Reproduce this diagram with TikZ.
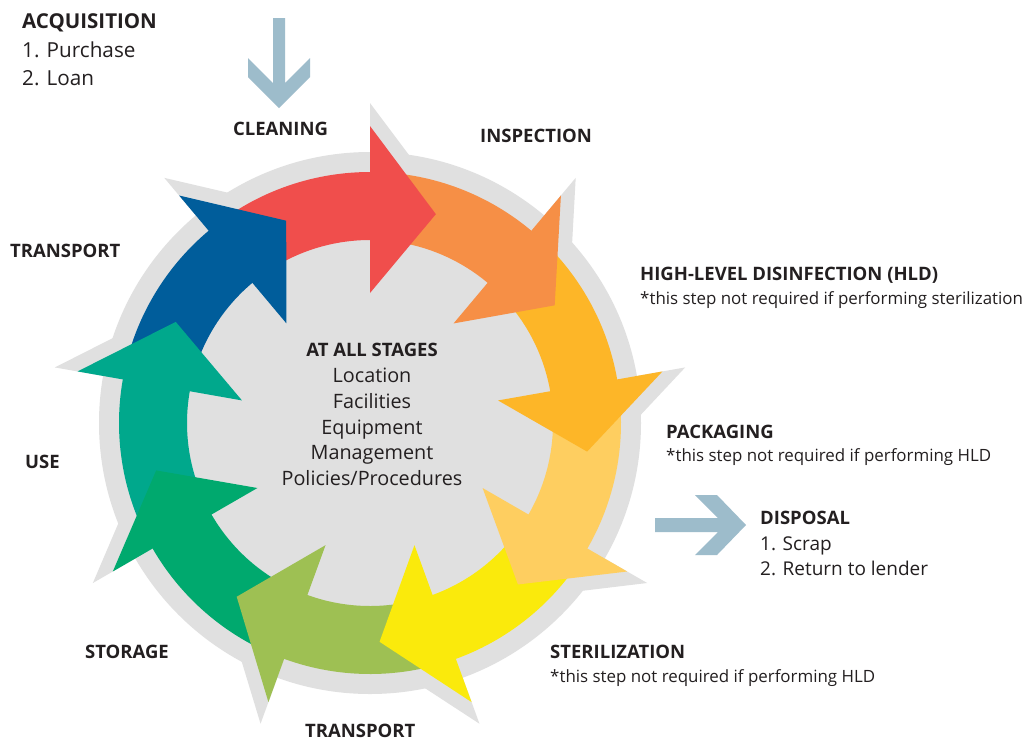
\documentclass[tikz,border=0pt]{standalone}
\usepackage{fontspec}
\setmainfont{Open Sans}
\usetikzlibrary{calc}
\definecolor{txt}{RGB}{35,31,32}
\definecolor{ringgray}{RGB}{224,224,224}
\definecolor{pale}{RGB}{157,188,203}
\definecolor{cRed}{RGB}{240,78,76}
\definecolor{cOrange}{RGB}{246,143,70}
\definecolor{cAmber}{RGB}{253,182,40}
\definecolor{cLight}{RGB}{254,206,96}
\definecolor{cYellow}{RGB}{250,234,12}
\definecolor{cOlive}{RGB}{158,192,83}
\definecolor{cGreen}{RGB}{0,169,110}
\definecolor{cTeal}{RGB}{0,168,140}
\definecolor{cBlue}{RGB}{0,93,155}
\begin{document}
\begin{tikzpicture}[x=1pt,y=-1pt,
  hd/.style={font=\fontsize{18.5}{22}\selectfont\bfseries, text=txt, inner sep=0pt},
  hdbig/.style={font=\fontsize{20.5}{24}\selectfont\bfseries, text=txt, inner sep=0pt},
  tx/.style={font=\fontsize{19}{22}\selectfont, text=txt, inner sep=0pt},
  txbig/.style={font=\fontsize{20.7}{24}\selectfont, text=txt, inner sep=0pt},
  txmid/.style={font=\fontsize{19.8}{23}\selectfont, text=txt, inner sep=0pt},
  nt/.style={font=\fontsize{16.9}{20}\selectfont, text=txt, inner sep=0pt}]
\useasboundingbox (0,0) rectangle (1026,740);
\fill[white] (0,0) rectangle (1026,740);
% wheel
\begin{scope}[shift={(370,423)}, yscale=-1]
  \fill[ringgray] (0,0) circle[radius=271];
  \foreach \i in {0,...,8}{
    \pgfmathsetmacro\a{90-40*\i}
    \pgfmathsetmacro\t{\a-17.5}
    \fill[ringgray] (\a:320) -- ($(\a:130)!1.14!(\t:219)$) -- (\a:130) -- cycle;
  }
  \foreach \c [count=\i from 0] in {cRed,cOrange,cAmber,cLight,cYellow,cOlive,cGreen,cTeal,cBlue}{
    \pgfmathsetmacro\a{90-40*\i}
    \pgfmathsetmacro\b{\a+39}
    \pgfmathsetmacro\e{\a-1}
    \fill[\c] (\b:251) arc[start angle=\b, end angle=\e, radius=251]
      -- (\e:183) arc[start angle=\e, end angle=\b, radius=183] -- cycle;
  }
  \foreach \c [count=\i from 0] in {cRed,cOrange,cAmber,cLight,cYellow,cOlive,cGreen,cTeal,cBlue}{
    \pgfmathsetmacro\a{90-40*\i}
    \pgfmathsetmacro\t{\a-17.5}
    \fill[\c] (\a:297) -- (\t:219) -- (\a:130) -- cycle;
  }
\end{scope}
% acquisition and disposal arrows
\fill[pale] (273,18) -- (285,18) -- (285,83) -- (310,58) -- (310,77) -- (279,108)
  -- (248,77) -- (248,58) -- (273,83) -- cycle;
\fill[pale] (655,518) -- (718,518) -- (695,495) -- (717,495) -- (746,525)
  -- (717,555) -- (695,555) -- (718,532) -- (655,532) -- cycle;
% labels
\node[hdbig, anchor=base west] (acq) at (22,28.5) {ACQUISITION};
\node[txbig, anchor=base west] (acq1) at (22,57) {1. Purchase};
\node[txbig, anchor=base west] (acq2) at (22,85.5) {2. Loan};
\node[hd, anchor=base] (clean) at (280.5,135) {CLEANING};
\node[hd, anchor=base west] (insp) at (480,142) {INSPECTION};
\node[hd, anchor=base west] (hld) at (640,280) {HIGH-LEVEL DISINFECTION (HLD)};
\node[nt, anchor=base west] (hldn) at (640,304) {*this step not required if performing sterilization};
\node[hd, anchor=base west] (pack) at (666,438) {PACKAGING};
\node[nt, anchor=base west] (packn) at (666,461) {*this step not required if performing HLD};
\node[hd, anchor=base west] (disp) at (760,524) {DISPOSAL};
\node[tx, anchor=base west] (disp1) at (760,550) {1. Scrap};
\node[tx, anchor=base west] (disp2) at (760,575) {2. Return to lender};
\node[hd, anchor=base west] (ster) at (550,658) {STERILIZATION};
\node[nt, anchor=base west] (stern) at (550,682) {*this step not required if performing HLD};
\node[hd, anchor=base west] (trb) at (305,737.5) {TRANSPORT};
\node[hd, anchor=base west] (stor) at (85,658) {STORAGE};
\node[hd, anchor=base west] (use) at (25,468) {USE};
\node[hd, anchor=base west] (trl) at (10,257) {TRANSPORT};
% centre
\node[hd, anchor=base] (c0) at (372,356) {AT ALL STAGES};
\node[txmid, anchor=base] (c1) at (372,382) {Location};
\node[txmid, anchor=base] (c2) at (372,408) {Facilities};
\node[txmid, anchor=base] (c3) at (372,434) {Equipment};
\node[txmid, anchor=base] (c4) at (372,459.5) {Management};
\node[txmid, anchor=base] (c5) at (372,485) {Policies/Procedures};
\end{tikzpicture}
\end{document}
